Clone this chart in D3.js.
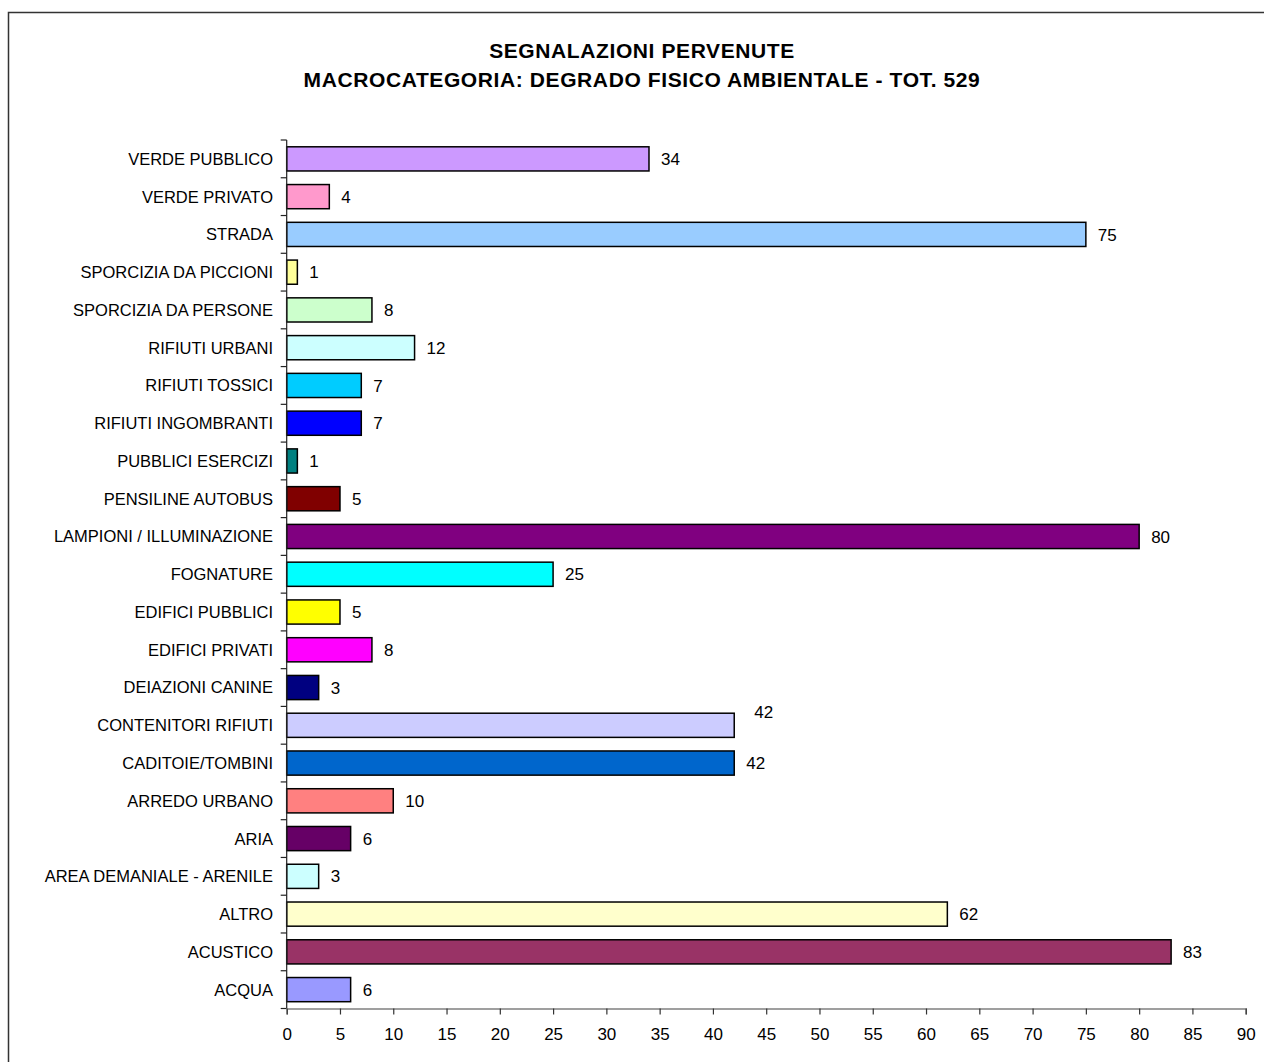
<!DOCTYPE html>
<html>
<head>
<meta charset="utf-8">
<script src="https://cdn.jsdelivr.net/npm/d3@7"></script>
<style>
  body { margin: 0; background: #fff; }
  svg { display: block; }
  text { font-family: Arial, "Liberation Sans", sans-serif; }
</style>
</head>
<body>
<script>
const categories = [
  "VERDE PUBBLICO", "VERDE PRIVATO", "STRADA", "SPORCIZIA DA PICCIONI",
  "SPORCIZIA DA PERSONE", "RIFIUTI URBANI", "RIFIUTI TOSSICI", "RIFIUTI INGOMBRANTI",
  "PUBBLICI ESERCIZI", "PENSILINE AUTOBUS", "LAMPIONI / ILLUMINAZIONE", "FOGNATURE",
  "EDIFICI PUBBLICI", "EDIFICI PRIVATI", "DEIAZIONI CANINE", "CONTENITORI RIFIUTI",
  "CADITOIE/TOMBINI", "ARREDO URBANO", "ARIA", "AREA DEMANIALE - ARENILE",
  "ALTRO", "ACUSTICO", "ACQUA"
];
const values = [34, 4, 75, 1, 8, 12, 7, 7, 1, 5, 80, 25, 5, 8, 3, 42, 42, 10, 6, 3, 62, 83, 6];
const colors = [
  "#CC99FF", "#FF99CC", "#99CCFF", "#FFFF99", "#CCFFCC", "#CCFFFF", "#00CCFF", "#0000FF",
  "#008080", "#800000", "#800080", "#00FFFF", "#FFFF00", "#FF00FF", "#000080", "#CCCCFF",
  "#0066CC", "#FF8080", "#660066", "#CCFFFF", "#FFFFCC", "#993366", "#9999FF"
];
const xTicks = [0, 5, 10, 15, 20, 25, 30, 35, 40, 45, 50, 55, 60, 65, 70, 75, 80, 85, 90];
const titleLines = ["SEGNALAZIONI PERVENUTE", "MACROCATEGORIA: DEGRADO FISICO AMBIENTALE - TOT. 529"];

const W = 1264, H = 1062;
const svg = d3.select("body").append("svg").attr("width", W).attr("height", H);

// outer chart border
svg.append("rect")
  .attr("x", 8.5).attr("y", 12.5).attr("width", W + 20).attr("height", H + 20)
  .attr("fill", "#fff").attr("stroke", "#333").attr("stroke-width", 1.5);

const x = d3.scaleLinear().domain([0, 90]).range([286.7, 1245.7]);
const y = d3.scaleBand().domain(categories).range([140, 1008.5]).paddingInner(0.36).paddingOuter(0.18);
const step = y.step();

// title
svg.selectAll("text.title").data(titleLines).enter().append("text")
  .attr("class", "title")
  .attr("x", 642).attr("y", (d, i) => 57.5 + i * 29.5)
  .attr("text-anchor", "middle")
  .attr("font-size", "21px").attr("font-weight", "bold")
  .attr("letter-spacing", "0.6px")
  .attr("fill", "#000")
  .text(d => d);

// bars
const data = categories.map((c, i) => ({ c, v: values[i], col: colors[i] }));
svg.selectAll("rect.bar").data(data).enter().append("rect")
  .attr("class", "bar")
  .attr("x", x(0))
  .attr("y", d => y(d.c))
  .attr("width", d => x(d.v) - x(0))
  .attr("height", y.bandwidth())
  .attr("fill", d => d.col)
  .attr("stroke", "#000").attr("stroke-width", 1.5);

// value labels
svg.selectAll("text.val").data(data).enter().append("text")
  .attr("class", "val")
  .attr("x", d => x(d.v) + (d.c === "CONTENITORI RIFIUTI" ? 20 : 12))
  .attr("y", d => y(d.c) + y.bandwidth() / 2 + (d.c === "CONTENITORI RIFIUTI" ? -13 : 0))
  .attr("dy", "0.36em")
  .attr("font-size", "17px").attr("fill", "#000")
  .text(d => d.v);

// y axis
const yAxisG = svg.append("g").attr("transform", `translate(${x(0)},0)`);
yAxisG.append("line").attr("x1", 0).attr("x2", 0).attr("y1", 140).attr("y2", 1008.5)
  .attr("stroke", "#222").attr("stroke-width", 1.2);
const boundaries = d3.range(categories.length + 1).map(i => 140 + i * step);
yAxisG.selectAll("line.ytick").data(boundaries).enter().append("line")
  .attr("class", "ytick")
  .attr("x1", -6).attr("x2", 0).attr("y1", d => d).attr("y2", d => d)
  .attr("stroke", "#222").attr("stroke-width", 1.2);
svg.selectAll("text.cat").data(categories).enter().append("text")
  .attr("class", "cat")
  .attr("x", 273)
  .attr("y", d => y(d) + y.bandwidth() / 2)
  .attr("dy", "0.36em")
  .attr("text-anchor", "end")
  .attr("font-size", "16.5px").attr("fill", "#000")
  .text(d => d);

// x axis
const xAxis = d3.axisBottom(x).tickValues(xTicks).tickSize(6).tickPadding(13);
const xg = svg.append("g").attr("transform", "translate(0,1008.5)").call(xAxis);
xg.select(".domain").attr("stroke", "#808080").attr("stroke-width", 1.5);
xg.selectAll(".tick line").attr("stroke", "#333").attr("stroke-width", 1.2);
xg.selectAll(".tick text").attr("font-size", "17px").attr("fill", "#000")
  .attr("font-family", "Arial, 'Liberation Sans', sans-serif");
</script>
</body>
</html>
